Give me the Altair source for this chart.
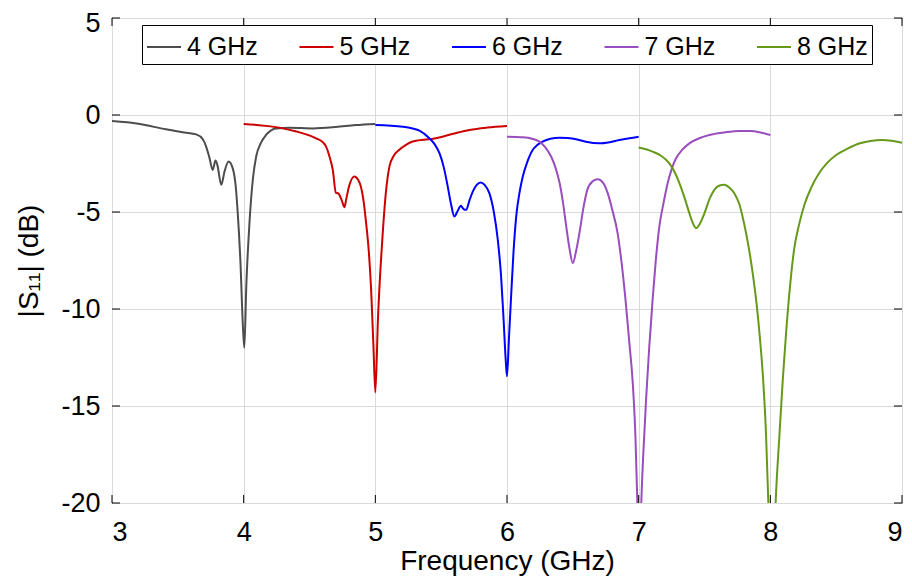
import altair as alt
import pandas as pd

# ---- data ----
series_names = ["4 GHz", "5 GHz", "6 GHz", "7 GHz", "8 GHz"]
series_colors = ["#4d4d4d", "#cc0000", "#0000ff", "#994dbf", "#66991a"]

f4 = [3.00, 3.20, 3.41, 3.55, 3.64, 3.69, 3.715, 3.74, 3.765, 3.786, 3.80, 3.83, 3.855, 3.885,
      3.917, 3.94, 3.955, 3.975, 3.995, 4.005, 4.02, 4.044, 4.07, 4.095, 4.13, 4.17, 4.247,
      4.35, 4.525, 4.70, 4.85, 5.00]
s4 = [-0.31, -0.45, -0.74, -0.90, -1.00, -1.25, -1.63, -2.2, -2.83, -2.35, -2.57, -3.60, -2.9, -2.40,
      -2.75, -3.7, -5.06, -7.5, -11.0, -12.0, -8.8, -5.57, -3.3, -2.14, -1.45, -1.03, -0.69,
      -0.66, -0.69, -0.62, -0.52, -0.46]

f5 = [4.00, 4.27, 4.40, 4.55, 4.60, 4.626, 4.65, 4.677, 4.70, 4.72, 4.745, 4.765, 4.78, 4.80,
      4.84, 4.87, 4.89, 4.91, 4.93, 4.95, 4.968, 4.985, 5.00, 5.02, 5.04, 5.056, 5.08, 5.107,
      5.14, 5.18, 5.23, 5.284, 5.46, 5.60, 5.715, 5.85, 6.00]
s5 = [-0.46, -0.65, -0.85, -1.20, -1.40, -1.63, -2.1, -2.83, -4.0, -4.05, -4.4, -4.75, -4.3, -3.69,
      -3.17, -3.35, -3.69, -4.4, -5.57, -7.0, -9.0, -11.8, -14.3, -10.5, -7.8, -6.1, -4.0, -2.66,
      -2.1, -1.80, -1.55, -1.37, -1.20, -0.95, -0.77, -0.65, -0.57]

f6 = [5.00, 5.21, 5.335, 5.41, 5.45, 5.487, 5.52, 5.55, 5.575, 5.60, 5.625, 5.65, 5.67, 5.69,
      5.715, 5.74, 5.77, 5.80, 5.83, 5.866, 5.90, 5.93, 5.955, 5.973, 5.99, 6.00, 6.015, 6.03,
      6.05, 6.07, 6.095, 6.12, 6.155, 6.195, 6.23, 6.27, 6.33, 6.40, 6.46, 6.525, 6.60, 6.70,
      6.78, 6.853, 6.93, 7.00]
s6 = [-0.51, -0.60, -0.81, -1.20, -1.5, -1.97, -2.7, -3.69, -4.6, -5.23, -4.95, -4.68, -4.85, -4.89,
      -4.4, -3.95, -3.6, -3.48, -3.6, -4.03, -5.0, -6.43, -8.3, -10.4, -12.6, -13.47, -11.5, -9.5,
      -7.0, -5.23, -4.0, -3.17, -2.4, -1.80, -1.55, -1.37, -1.22, -1.17, -1.19, -1.25, -1.38, -1.46,
      -1.40, -1.29, -1.20, -1.12]

f7 = [6.00, 6.12, 6.19, 6.246, 6.29, 6.335, 6.37, 6.40, 6.425, 6.45, 6.475, 6.50, 6.525, 6.55,
      6.58, 6.61, 6.65, 6.69, 6.73, 6.765, 6.80, 6.84, 6.87, 6.90, 6.93, 6.955, 6.975, 6.99, 7.005,
      7.02, 7.035, 7.056, 7.08, 7.106, 7.13, 7.157, 7.19, 7.22, 7.25, 7.284, 7.33, 7.385, 7.46,
      7.537, 7.65, 7.765, 7.85, 7.917, 8.00]
s7 = [-1.12, -1.15, -1.22, -1.37, -1.65, -2.14, -2.75, -3.52, -4.5, -5.75, -6.9, -7.63, -7.0, -6.09,
      -4.8, -3.86, -3.42, -3.31, -3.5, -4.03, -4.9, -6.09, -7.6, -9.52, -11.8, -13.8, -16.5, -20.0, -24.0,
      -20.0, -17.5, -14.7, -12.0, -9.52, -7.5, -5.75, -4.5, -3.52, -2.8, -2.23, -1.8, -1.46, -1.2,
      -1.03, -0.90, -0.82, -0.83, -0.89, -1.03]

f8 = [7.00, 7.106, 7.17, 7.233, 7.27, 7.31, 7.35, 7.385, 7.41, 7.436, 7.465, 7.50, 7.54, 7.575,
      7.61, 7.65, 7.69, 7.726, 7.765, 7.80, 7.835, 7.866, 7.895, 7.917, 7.945, 7.967, 7.985, 8.01,
      8.04, 8.07, 8.095, 8.12, 8.15, 8.18, 8.22, 8.26, 8.31, 8.37, 8.43, 8.50, 8.59, 8.675, 8.76,
      8.85, 8.92, 9.00]
s8 = [-1.68, -1.89, -2.1, -2.49, -2.9, -3.52, -4.3, -5.06, -5.55, -5.83, -5.6, -5.06, -4.3, -3.86,
      -3.65, -3.60, -3.75, -4.03, -4.6, -5.57, -6.8, -8.15, -9.7, -11.2, -13.6, -16.4, -20.0, -26.0,
      -20.0, -16.4, -13.6, -11.2, -8.8, -6.95, -5.6, -4.6, -3.75, -3.0, -2.48, -2.06, -1.72, -1.47, -1.34,
      -1.29, -1.33, -1.43]

x_ticks = [3, 4, 5, 6, 7, 8, 9]
y_ticks = [5, 0, -5, -10, -15, -20]

# ---- build table ----
rows = []
for name, fs, ss in zip(series_names, [f4, f5, f6, f7, f8], [s4, s5, s6, s7, s8]):
    for f, s in zip(fs, ss):
        rows.append({"series": name, "freq": f, "s11": s})
df = pd.DataFrame(rows)
xt = pd.DataFrame({"t": x_ticks})
yt = pd.DataFrame({"t": y_ticks})

W, H = 790, 485
FONT = "Liberation Sans"

xscale = alt.Scale(domain=[3, 9], nice=False, zero=False)
yscale = alt.Scale(domain=[-20, 5], nice=False, zero=False)

lines = alt.Chart(df).mark_line(strokeWidth=2, clip=True, interpolate="monotone").encode(
    x=alt.X("freq:Q", scale=xscale,
            axis=alt.Axis(values=x_ticks, title="Frequency (GHz)",
                          labelExpr="'' + datum.value",
                          titleBaseline="bottom", titleY=72)),
    y=alt.Y("s11:Q", scale=yscale,
            axis=alt.Axis(values=y_ticks, title="|S₁₁| (dB)",
                          labelExpr="'' + datum.value",
                          labelOffset={"condition": {"test": "datum.value == 5", "value": 5.5},
                                       "value": 0})),
    color=alt.Color("series:N",
                    scale=alt.Scale(domain=series_names, range=series_colors),
                    sort=series_names,
                    legend=alt.Legend(title=None, orient="none", legendX=30, legendY=7,
                                      direction="horizontal", columns=5,
                                      symbolType="stroke", symbolSize=1156,
                                      symbolStrokeWidth=2, labelFontSize=25,
                                      labelFont=FONT, labelColor="black",
                                      labelOffset=5, columnPadding=37.5, padding=4,
                                      strokeColor="black", fillColor="white",
                                      labelLimit=200)),
)

tick_style = dict(color="black", strokeWidth=1)
xb = alt.Chart(xt).mark_rule(**tick_style).encode(
    x=alt.X("t:Q", scale=xscale), y=alt.value(H), y2=alt.value(H - 8))
xtop = alt.Chart(xt).mark_rule(**tick_style).encode(
    x=alt.X("t:Q", scale=xscale), y=alt.value(0), y2=alt.value(8))
yl = alt.Chart(yt).mark_rule(**tick_style).encode(
    y=alt.Y("t:Q", scale=yscale), x=alt.value(0), x2=alt.value(8))
yr = alt.Chart(yt).mark_rule(**tick_style).encode(
    y=alt.Y("t:Q", scale=yscale), x=alt.value(W), x2=alt.value(W - 8))

chart = alt.layer(lines, xb, xtop, yl, yr).properties(
    width=W, height=H,
    autosize=alt.AutoSizeParams(type="none"),
    padding={"left": 104, "top": 10, "right": 2, "bottom": 73},
).configure_view(
    stroke="black", strokeWidth=1
).configure_axis(
    labelFont=FONT, labelFontSize=27, labelColor="black",
    titleFont=FONT, titleFontSize=28, titleFontWeight="normal", titleColor="black",
    ticks=False, domain=False, gridColor="#dadada", gridWidth=1, gridOpacity=1,
).configure_axisX(
    labelPadding=16,
).configure_axisY(
    labelPadding=12, titleX=-75, titleY=H / 2, titleBaseline="alphabetic",
)

chart.save("out.html", embed_options={"renderer": "svg", "actions": False})
